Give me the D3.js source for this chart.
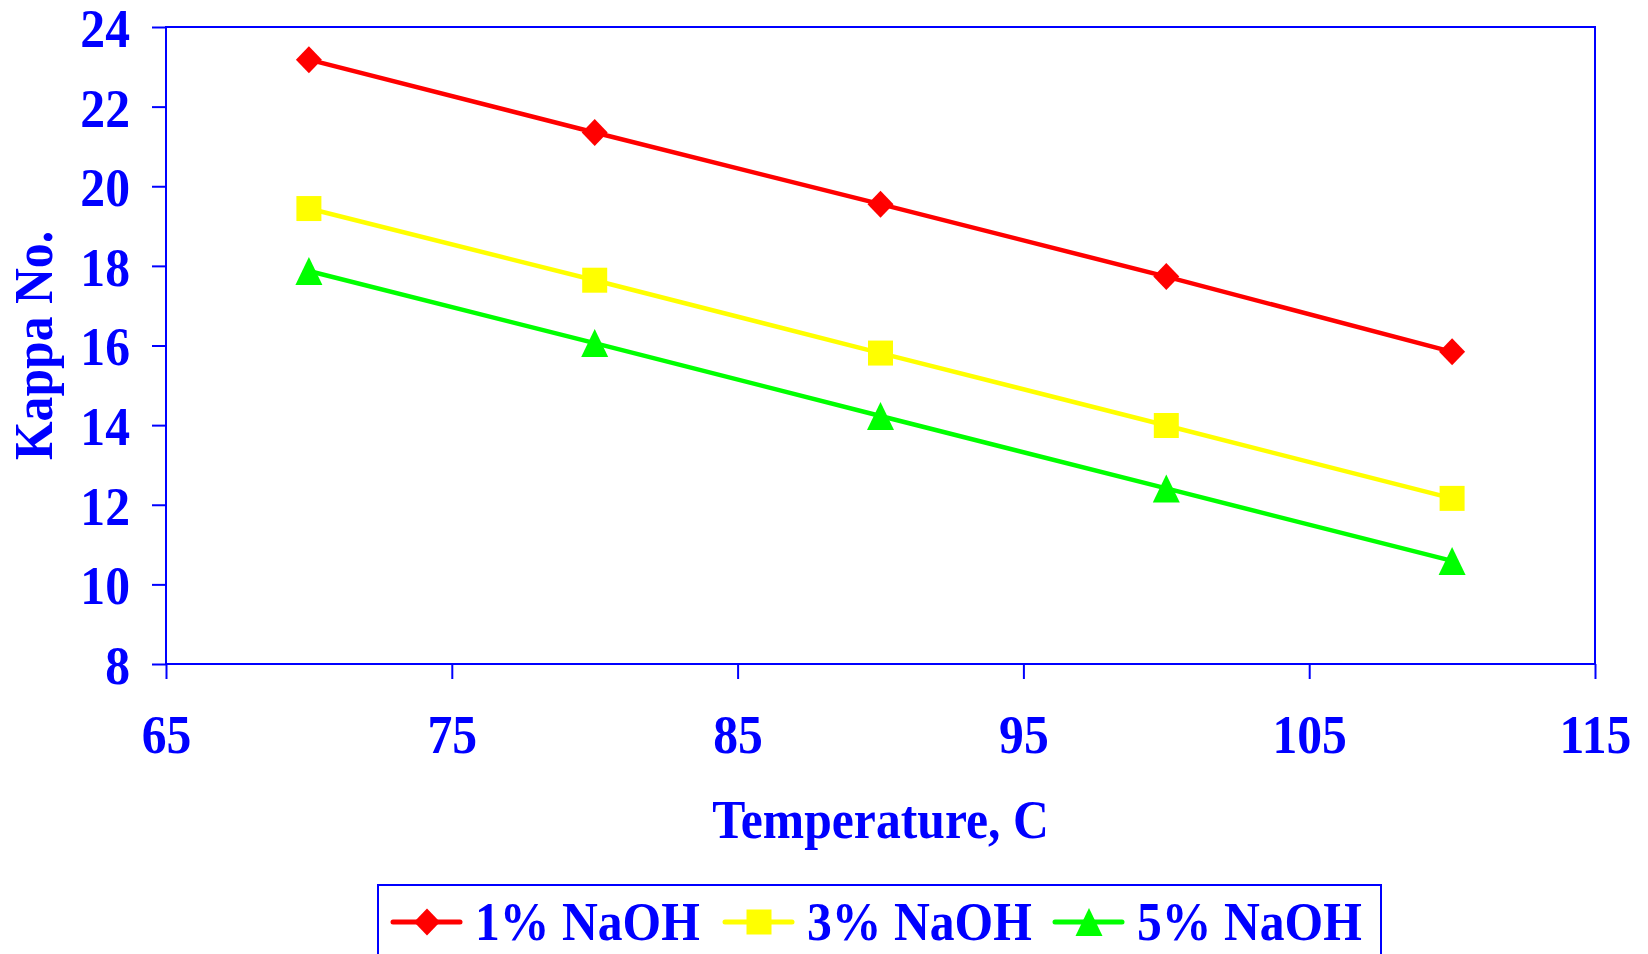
<!DOCTYPE html>
<html>
<head>
<meta charset="utf-8">
<script src="https://cdn.jsdelivr.net/npm/d3@7"></script>
<style>
  html, body { margin: 0; padding: 0; background: #fff; }
  svg { display: block; }
  text { font-family: "Liberation Serif", "Times New Roman", serif; font-weight: bold; fill: #0000FF; }
</style>
</head>
<body>
<svg id="chart" width="1648" height="954"></svg>
<script>
const temperatures = [70, 80, 90, 100, 110];
const naoh1 = [23.18, 21.35, 19.55, 17.73, 15.84];
const naoh3 = [19.44, 17.64, 15.81, 13.99, 12.16];
const naoh5 = [17.87, 16.06, 14.23, 12.41, 10.59];
const seriesNames = ["1% NaOH", "3% NaOH", "5% NaOH"];
const seriesColors = ["#FF0000", "#FFFF00", "#00FF00"];
const seriesShapes = ["diamond", "square", "triangle"];
const xTicks = [65, 75, 85, 95, 105, 115];
const yTicks = [8, 10, 12, 14, 16, 18, 20, 22, 24];
const xTitle = "Temperature, C";
const yTitle = "Kappa No.";

(function () {
const BLUE = "#0000FF";
const FS = 54, SX = 0.92;
const svg = d3.select("#chart");

const pL = 166, pR = 1595, pT = 27, pB = 664;
const x = d3.scaleLinear().domain([65, 115]).range([pL, pR]);
const y = d3.scaleLinear().domain([8, 24]).range([pB, pT]);

function squeeze(sel) {
  sel.attr("transform", function () {
    const tx = +this.getAttribute("x") || 0, ty = +this.getAttribute("y") || 0;
    return `translate(${tx},${ty}) scale(${SX},1) translate(${-tx},${-ty})`;
  });
}

// Frame
svg.append("rect").attr("x", pL).attr("y", pT)
  .attr("width", pR - pL).attr("height", pB - pT)
  .attr("fill", "none").attr("stroke", BLUE).attr("stroke-width", 2);

// Y axis
const gy = svg.append("g").attr("transform", `translate(${pL},0)`)
  .call(d3.axisLeft(y).tickValues(yTicks).tickSize(14).tickSizeOuter(0).tickPadding(22).tickFormat(d3.format("d")));
gy.select(".domain").remove();
gy.selectAll(".tick line").attr("stroke", BLUE).attr("stroke-width", 2);
gy.selectAll(".tick text").attr("font-size", FS).attr("dy", "0.36em")
  .style("font-family", '"Liberation Serif", serif').style("font-weight", "bold").attr("fill", BLUE).call(squeeze);

// X axis
const gx = svg.append("g").attr("transform", `translate(0,${pB})`)
  .call(d3.axisBottom(x).tickValues(xTicks).tickSize(15).tickSizeOuter(0).tickPadding(36).tickFormat(d3.format("d")));
gx.select(".domain").remove();
gx.selectAll(".tick line").attr("stroke", BLUE).attr("stroke-width", 2);
gx.selectAll(".tick text").attr("font-size", FS).attr("dy", "0.71em")
  .style("font-family", '"Liberation Serif", serif').style("font-weight", "bold").attr("fill", BLUE).call(squeeze);

// Axis titles
svg.append("text").attr("x", (pL + pR) / 2).attr("y", 838)
  .attr("text-anchor", "middle").attr("font-size", FS).text(xTitle).call(squeeze);

svg.append("text").attr("x", 0).attr("y", 0)
  .attr("text-anchor", "middle").attr("font-size", FS)
  .attr("transform", `translate(52,${(pT + pB) / 2}) rotate(-90) scale(${SX},1)`)
  .text(yTitle);

// Markers
function markerPath(shape) {
  if (shape === "diamond") return "M0,-13.5L13,0L0,13.5L-13,0Z";
  if (shape === "square") return "M-12.5,-12.5H12.5V12.5H-12.5Z";
  return "M0,-14L13.5,14H-13.5Z";
}

const allSeries = [naoh1, naoh3, naoh5];
const line = d3.line().x((d, i) => x(temperatures[i])).y(d => y(d));

allSeries.forEach((vals, s) => {
  const g = svg.append("g");
  g.append("path").datum(vals).attr("d", line)
    .attr("fill", "none").attr("stroke", seriesColors[s]).attr("stroke-width", 4.5)
    .attr("stroke-linejoin", "round");
  g.selectAll("path.m").data(vals).join("path").attr("class", "m")
    .attr("d", markerPath(seriesShapes[s]))
    .attr("transform", (d, i) => `translate(${x(temperatures[i])},${y(d)})`)
    .attr("fill", seriesColors[s]);
});

// Legend
svg.append("rect").attr("x", 378).attr("y", 885).attr("width", 1003).attr("height", 90)
  .attr("fill", "none").attr("stroke", BLUE).attr("stroke-width", 2);

const legY = 922;
const legX0 = [391, 723, 1053];
seriesNames.forEach((name, s) => {
  const g = svg.append("g").attr("transform", `translate(${legX0[s]},${legY})`);
  g.append("line").attr("x1", 2).attr("x2", 69).attr("y1", 0).attr("y2", 0)
    .attr("stroke", seriesColors[s]).attr("stroke-width", 5).attr("stroke-linecap", "round");
  g.append("path").attr("d", markerPath(seriesShapes[s])).attr("transform", "translate(36,0)")
    .attr("fill", seriesColors[s]);
  g.append("text").attr("x", 84).attr("y", 18).attr("font-size", FS).text(name).call(squeeze);
});
})();
</script>
</body>
</html>
